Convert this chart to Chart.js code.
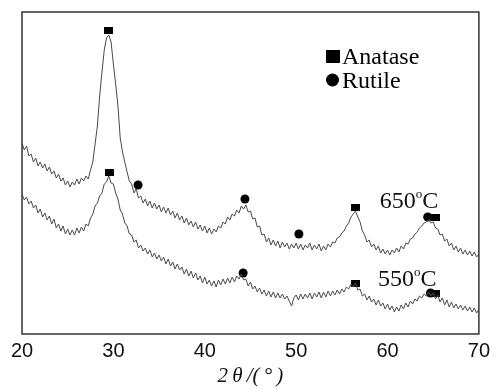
<!DOCTYPE html>
<html>
<head>
<meta charset="utf-8">
<script src="https://cdn.jsdelivr.net/npm/chart.js@4/dist/chart.umd.min.js"></script>
<style>
  html, body { margin: 0; padding: 0; background: #fff; }
</style>
</head>
<body>
<canvas id="xrdChart" width="495" height="390"></canvas>
<script>
// 2-theta sampling (degrees)
var angles = [
  20, 20.25, 20.5, 20.75, 21, 21.25, 21.5, 21.75, 22, 22.25, 22.5, 22.75,
  23, 23.25, 23.5, 23.75, 24, 24.25, 24.5, 24.75, 25, 25.25, 25.5, 25.75,
  26, 26.25, 26.5, 26.75, 27, 27.25, 27.5, 27.75, 28, 28.25, 28.5, 28.75,
  29, 29.25, 29.5, 29.75, 30, 30.25, 30.5, 30.75, 31, 31.25, 31.5, 31.75,
  32, 32.25, 32.5, 32.75, 33, 33.25, 33.5, 33.75, 34, 34.25, 34.5, 34.75,
  35, 35.25, 35.5, 35.75, 36, 36.25, 36.5, 36.75, 37, 37.25, 37.5, 37.75,
  38, 38.25, 38.5, 38.75, 39, 39.25, 39.5, 39.75, 40, 40.25, 40.5, 40.75,
  41, 41.25, 41.5, 41.75, 42, 42.25, 42.5, 42.75, 43, 43.25, 43.5, 43.75,
  44, 44.25, 44.5, 44.75, 45, 45.25, 45.5, 45.75, 46, 46.25, 46.5, 46.75,
  47, 47.25, 47.5, 47.75, 48, 48.25, 48.5, 48.75, 49, 49.25, 49.5, 49.75,
  50, 50.25, 50.5, 50.75, 51, 51.25, 51.5, 51.75, 52, 52.25, 52.5, 52.75,
  53, 53.25, 53.5, 53.75, 54, 54.25, 54.5, 54.75, 55, 55.25, 55.5, 55.75,
  56, 56.25, 56.5, 56.75, 57, 57.25, 57.5, 57.75, 58, 58.25, 58.5, 58.75,
  59, 59.25, 59.5, 59.75, 60, 60.25, 60.5, 60.75, 61, 61.25, 61.5, 61.75,
  62, 62.25, 62.5, 62.75, 63, 63.25, 63.5, 63.75, 64, 64.25, 64.5, 64.75,
  65, 65.25, 65.5, 65.75, 66, 66.25, 66.5, 66.75, 67, 67.25, 67.5, 67.75,
  68, 68.25, 68.5, 68.75, 69, 69.25, 69.5, 69.75, 70
];

// intensity (arbitrary units, curves offset as in the figure)
var counts650 = [
  191, 184, 188, 178, 180, 172, 176, 168, 172, 166, 170, 163,
  167, 160, 163, 156, 160, 153, 156, 149, 153, 147, 152, 149,
  155, 150, 156, 153, 158, 155, 164, 172, 190, 208, 238, 262,
  284, 296, 299, 292, 270, 250, 228, 196, 182, 172, 162, 153,
  150, 141, 145, 136, 138, 131, 135, 128, 133, 126, 131, 125,
  129, 122, 127, 121, 126, 119, 123, 116, 121, 114, 118, 111,
  116, 109, 113, 107, 112, 105, 109, 103, 108, 101, 106, 100,
  105, 102, 108, 106, 112, 110, 117, 114, 120, 118, 124, 121,
  128, 125, 129, 122, 123, 115, 116, 107, 108, 99, 100, 92,
  96, 89, 94, 88, 93, 86, 92, 87, 91, 85, 90, 86,
  91, 85, 90, 84, 89, 86, 91, 84, 89, 85, 90, 83,
  88, 84, 90, 87, 92, 91, 96, 97, 101, 103, 108, 111,
  117, 120, 123, 117, 112, 103, 99, 92, 94, 87, 90, 84,
  88, 81, 85, 80, 84, 79, 84, 81, 86, 82, 88, 85,
  91, 90, 95, 96, 100, 102, 106, 108, 111, 112, 115, 111,
  112, 106, 105, 99, 100, 93, 95, 88, 91, 84, 88, 82,
  86, 80, 84, 79, 83, 78, 82, 77, 80
];

var counts550 = [
  140, 134, 137, 130, 133, 126, 129, 121, 125, 117, 121, 114,
  118, 110, 115, 106, 110, 103, 108, 100, 105, 99, 104, 99,
  106, 101, 107, 103, 110, 108, 116, 120, 128, 131, 138, 141,
  150, 152, 158, 151, 150, 141, 135, 124, 120, 111, 108, 100,
  99, 92, 94, 86, 89, 83, 86, 80, 84, 77, 81, 75,
  79, 73, 77, 70, 75, 68, 72, 65, 70, 64, 67, 60,
  65, 58, 63, 56, 61, 54, 58, 51, 57, 50, 54, 48,
  53, 47, 54, 49, 55, 50, 56, 51, 57, 52, 58, 55,
  60, 54, 55, 48, 52, 45, 48, 42, 46, 40, 44, 38,
  43, 37, 42, 36, 41, 36, 40, 35, 38, 33, 28, 36,
  39, 34, 40, 35, 40, 36, 41, 35, 41, 37, 42, 36,
  42, 37, 43, 38, 43, 39, 44, 40, 45, 42, 47, 45,
  50, 47, 51, 44, 45, 38, 40, 34, 38, 32, 35, 29,
  34, 28, 31, 25, 30, 24, 28, 22, 27, 23, 29, 25,
  31, 27, 33, 30, 35, 33, 38, 36, 40, 38, 42, 38,
  41, 35, 39, 32, 36, 29, 34, 27, 32, 26, 30, 25,
  29, 24, 28, 23, 27, 22, 26, 21, 25
];

// phase markers
var anataseAngle650 = [29.5, 56.5, 65.2];
var anataseLevel650 = [304, 127, 117];
var anataseAngle550 = [29.6, 56.5, 65.3];
var anataseLevel550 = [162, 51, 41];
var rutileAngle650 = [32.7, 44.4, 50.3, 64.4];
var rutileLevel650 = [149, 135, 100, 117];
var rutileAngle550 = [44.2, 64.7];
var rutileLevel550 = [61, 41];

// curve labels
var tempLabels = ["650", "550"];
var tempAngle = [59.15, 58.95];
var tempLevel = [126, 48];

var legendLabels = ["Anatase", "Rutile"];

function pairs(xs, ys) {
  return xs.map(function (x, i) { return { x: x, y: ys[i] }; });
}

// small filled rectangle used as the anatase marker
var rectMark = document.createElement("canvas");
rectMark.width = 9;
rectMark.height = 7;
var rc = rectMark.getContext("2d");
rc.fillStyle = "#000";
rc.fillRect(0, 0, 9, 7);

var serif = "'Liberation Serif', 'Times New Roman', serif";

var decorPlugin = {
  id: "decor",
  afterDatasetsDraw: function (chart) {
    var ctx = chart.ctx;
    var a = chart.chartArea;
    var xs = chart.scales.x;
    var ys = chart.scales.y;
    ctx.save();

    // frame
    ctx.strokeStyle = "#333";
    ctx.lineWidth = 1.5;
    ctx.strokeRect(a.left, a.top, a.right - a.left, a.bottom - a.top);

    // temperature labels
    ctx.fillStyle = "#111";
    ctx.textBaseline = "alphabetic";
    tempLabels.forEach(function (t, i) {
      var x = xs.getPixelForValue(tempAngle[i]);
      var y = ys.getPixelForValue(tempLevel[i]);
      ctx.font = "24px " + serif;
      ctx.fillText(t, x, y);
      x += ctx.measureText(t).width;
      ctx.font = "13px " + serif;
      ctx.fillText("o", x, y - 10);
      x += ctx.measureText("o").width;
      ctx.font = "24px " + serif;
      ctx.fillText("C", x, y);
    });

    // legend
    var lx = a.left + 304;
    var ly = a.top + 52;
    ctx.fillStyle = "#000";
    ctx.fillRect(lx, ly - 14, 14, 13);
    ctx.beginPath();
    ctx.arc(lx + 6.5, ly + 16, 6.5, 0, Math.PI * 2);
    ctx.fill();
    ctx.font = "24px " + serif;
    ctx.fillText(legendLabels[0], lx + 16, ly);
    ctx.fillText(legendLabels[1], lx + 16, ly + 24);

    ctx.restore();
  }
};

var lineStyle = {
  borderColor: "#4a4a4a",
  borderWidth: 1,
  pointRadius: 0,
  tension: 0,
  fill: false
};

new Chart(document.getElementById("xrdChart"), {
  type: "line",
  data: {
    datasets: [
      Object.assign({ label: "650", data: pairs(angles, counts650) }, lineStyle),
      Object.assign({ label: "550", data: pairs(angles, counts550) }, lineStyle),
      {
        label: "Anatase",
        type: "scatter",
        data: pairs(anataseAngle650, anataseLevel650).concat(pairs(anataseAngle550, anataseLevel550)),
        pointStyle: rectMark,
        showLine: false
      },
      {
        label: "Rutile",
        type: "scatter",
        data: pairs(rutileAngle650, rutileLevel650).concat(pairs(rutileAngle550, rutileLevel550)),
        pointStyle: "circle",
        pointRadius: 4.5,
        pointBackgroundColor: "#000",
        pointBorderWidth: 0,
        showLine: false
      }
    ]
  },
  options: {
    responsive: false,
    animation: false,
    layout: { padding: { left: 22, right: 13, top: 12, bottom: 0 } },
    plugins: {
      legend: { display: false },
      tooltip: { enabled: false }
    },
    scales: {
      x: {
        type: "linear",
        min: 20,
        max: 70,
        grid: { display: false, drawTicks: false },
        border: { display: false },
        ticks: {
          stepSize: 10,
          color: "#111",
          maxRotation: 0,
          padding: 5,
          font: { family: "'Liberation Sans', Arial, sans-serif", size: 20 }
        },
        title: {
          display: true,
          text: "2\u2009θ\u2009/(\u2009°\u2009)",
          color: "#111",
          font: { family: serif, size: 21, style: "italic" },
          padding: { top: 0, bottom: 1 }
        },
        afterFit: function (scale) { scale.height = 56; }
      },
      y: {
        display: false,
        min: 0,
        max: 322
      }
    }
  },
  plugins: [decorPlugin]
});
</script>
</body>
</html>
